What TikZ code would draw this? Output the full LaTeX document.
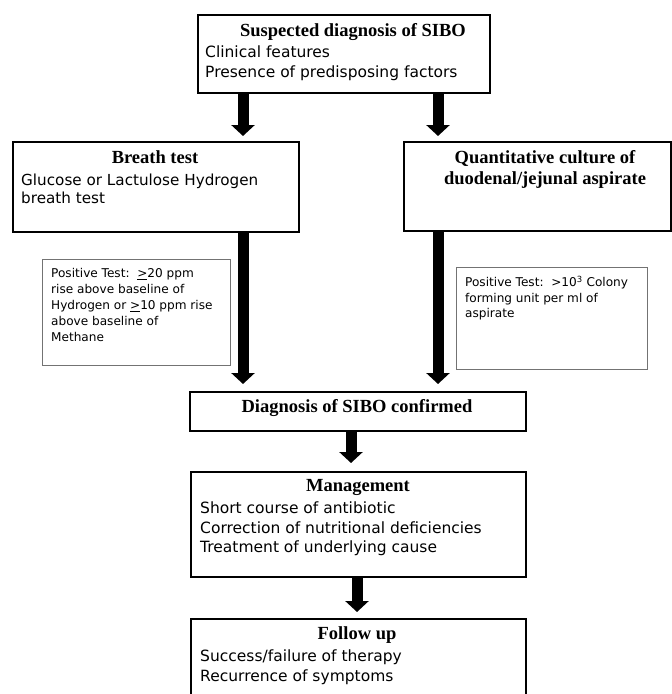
\documentclass[tikz,border=0pt]{standalone}
\usepackage{fontspec}
\setmainfont{Liberation Serif}
\newfontfamily\bodyfont{DejaVu Sans}
\usetikzlibrary{arrows.meta}
\tikzset{
  mainbox/.style={draw=black, line width=1.8pt, rectangle, inner sep=0pt, anchor=north west},
  notebox/.style={draw=black!55, line width=0.8pt, rectangle, inner sep=0pt, anchor=north west},
  head/.style={font=\fontsize{18.5}{22}\selectfont\bfseries, inner sep=0pt, anchor=center},
  body/.style={font=\bodyfont\fontsize{15.5}{19.5}\selectfont, align=left, inner sep=0pt, anchor=north west},
  note/.style={font=\bodyfont\fontsize{12.1}{16}\selectfont, align=left, inner sep=0pt, anchor=north west},
  bigarrow/.style={line width=11pt, -{Triangle[width=23pt,length=11pt]}},
}
\begin{document}
\begin{tikzpicture}[x=1pt,y=-1pt]
\useasboundingbox (0,0) rectangle (672,694);
\clip (0,0) rectangle (672,694);
% boxes
\node[mainbox, minimum width=292pt, minimum height=78pt] (top) at (197,14) {};
\node[mainbox, minimum width=286pt, minimum height=90pt] (bt) at (12,141) {};
\node[mainbox, minimum width=267pt, minimum height=89pt] (qc) at (403,141) {};
\node[notebox, minimum width=188pt, minimum height=106pt] (n1) at (42,259) {};
\node[notebox, minimum width=191pt, minimum height=102pt] (n2) at (456,267) {};
\node[mainbox, minimum width=336pt, minimum height=39pt] (dx) at (189,391) {};
\node[mainbox, minimum width=335pt, minimum height=105pt] (mg) at (190,471) {};
\node[mainbox, minimum width=335pt, minimum height=90pt] (fu) at (190,618) {};
% texts
\node[head] (toph) at (353,32) {Suspected diagnosis of SIBO};
\node[body] (topb) at (205,46) {Clinical features\\Presence of predisposing factors};
\node[head] (bth) at (155,157) {Breath test};
\node[body, font=\bodyfont\fontsize{15.2}{18}\selectfont] (btb) at (21,174) {Glucose or Lactulose Hydrogen\\breath test};
\node[head, align=center, font=\fontsize{18.5}{21}\selectfont\bfseries] (qch) at (545,169) {Quantitative culture of\\duodenal/jejunal aspirate};
\node[note] (n1t) at (51,268) {Positive Test:\ \ \underline{>}20 ppm\\rise above baseline of\\Hydrogen or \underline{>}10 ppm rise\\above baseline of\\Methane};
\node[note, font=\bodyfont\fontsize{12.1}{15.5}\selectfont] (n2t) at (465,276) {Positive Test:\ \ >10\textsuperscript{3} Colony\\forming unit per ml of\\aspirate};
\node[head] (dxh) at (357,408) {Diagnosis of SIBO confirmed};
\node[head] (mgh) at (358,487) {Management};
\node[body] (mgb) at (200,502) {Short course of antibiotic\\Correction of nutritional deficiencies\\Treatment of underlying cause};
\node[head] (fuh) at (357,635) {Follow up};
\node[body] (fub) at (200,650) {Success/failure of therapy\\Recurrence of symptoms};
% arrow columns
\coordinate (xl) at (243,0);
\coordinate (xr) at (438,0);
\coordinate (xm1) at (351,0);
\coordinate (xm2) at (357,0);
\draw[bigarrow] (top.south -| xl) -- ([yshift=5pt]bt.north -| xl);
\draw[bigarrow] (top.south -| xr) -- ([yshift=5pt]qc.north -| xr);
\draw[bigarrow] (bt.south -| xl) -- ([yshift=7pt]dx.north -| xl);
\draw[bigarrow] (qc.south -| xr) -- ([yshift=7pt]dx.north -| xr);
\draw[bigarrow] (dx.south -| xm1) -- ([yshift=8pt]mg.north -| xm1);
\draw[bigarrow] (mg.south -| xm2) -- ([yshift=6pt]fu.north -| xm2);
\end{tikzpicture}
\end{document}
